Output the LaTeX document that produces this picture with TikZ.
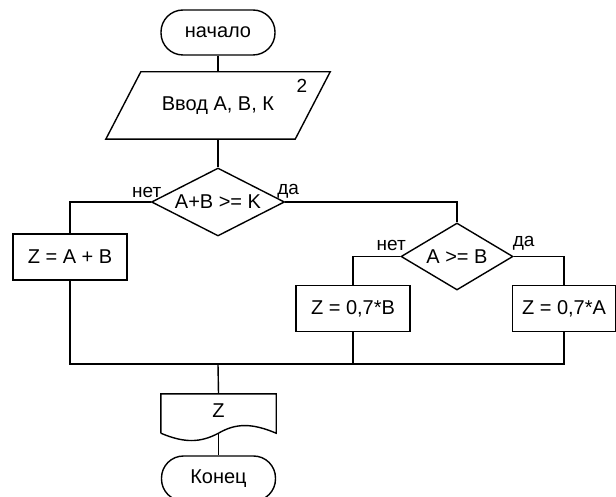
\documentclass[tikz,border=0pt]{standalone}
\usepackage{fontspec}
\setmainfont{Liberation Sans}
\usetikzlibrary{shapes.geometric}

\tikzset{
  base/.style = {draw, line width=1.4pt, inner sep=0pt, font=\fontsize{20}{22}\selectfont},
  term/.style = {base, rectangle, rounded corners=22pt, minimum width=114pt, minimum height=45pt},
  io/.style = {inner sep=0pt, minimum width=189pt, minimum height=67pt, font=\fontsize{20}{22}\selectfont},
  proc/.style = {base, rectangle, minimum width=114pt, minimum height=46pt},
  cond/.style = {base, diamond, aspect=2},
  lbl/.style = {font=\fontsize{19}{21}\selectfont, inner sep=1pt},
  line/.style = {line width=1.4pt},
}

\begin{document}
\begin{tikzpicture}[x=1pt, y=-1pt]
    \useasboundingbox (0,0) rectangle (616,497);

    \node[term] (start) at (218,32.5) {начало};

    % parallelogram for input
    \node[io] (inp) at (218,105.5) {Ввод А, В, К};
    \draw[line] ([xshift=17.5pt]inp.north west) -- ([xshift=17.5pt]inp.north east)
      -- ([xshift=-17.5pt]inp.south east) -- ([xshift=-17.5pt]inp.south west) -- cycle;
    \node[lbl] (num) at (302,86) {2};

    \node[cond, minimum width=133pt, minimum height=68pt] (d1) at (218,202) {A+B >= K};
    \node[lbl, anchor=south] (no1) at ([xshift=-4pt, yshift=3pt]d1.west) {нет};
    \node[lbl, anchor=south] (yes1) at ([xshift=3pt, yshift=3pt]d1.east) {да};

    \node[proc] (zab) at (70,257) {Z = A + B};

    \node[cond, minimum width=112pt, minimum height=67pt] (d2) at (457,256.5) {A >= B};
    \node[lbl, anchor=south] (no2) at ([xshift=-9pt, yshift=5pt]d2.west) {нет};
    \node[lbl, anchor=south] (yes2) at ([xshift=10pt, yshift=5pt]d2.east) {да};

    \node[proc] (zb) at (353,308.5) {Z = 0,7*B};
    \node[proc, minimum width=103pt] (za) at (564,308.5) {Z = 0,7*A};

    \coordinate (join) at (218,364);

    % document symbol for output
    \node[inner sep=0pt, minimum width=115pt, minimum height=39pt,
          font=\fontsize{20}{22}\selectfont] (out) at (218.5,413.5) {\raisebox{5pt}{Z}};
    \draw[line] (out.south west) -- (out.north west) -- (out.north east) -- (out.south east)
      .. controls (252,423) and (236,423) .. (out.south)
      .. controls (200,443) and (184,443) .. (out.south west);

    \node[term] (stop) at (218.5,478.5) {Конец};

    % connectors
    \draw[line] (start) -- (inp.north);
    \draw[line] (inp.south) -- (d1);
    \draw[line] (d1.west) -| (zab.north);
    \draw[line] (d1.east) -| (d2.north);
    \draw[line] (d2.west) -| (zb.north);
    \draw[line] (d2.east) -| (za.north);
    \draw[line] (zab.south) |- (join);
    \draw[line] (za.south) |- (join);
    \draw[line] (zb.south) -- (zb.south |- join);
    \draw[line] (join) -- (out.north);
    \draw[line] (out.south) -- (stop.north);

  \end{tikzpicture}
\end{document}
